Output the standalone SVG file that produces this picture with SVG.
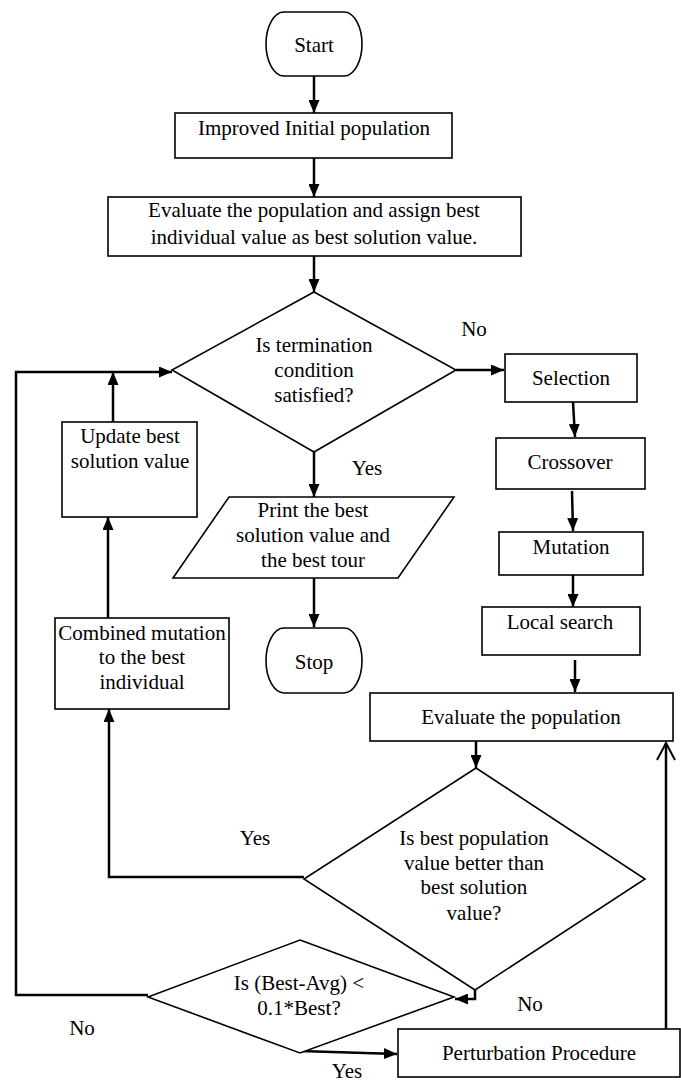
<svg xmlns="http://www.w3.org/2000/svg" width="681" height="1083" viewBox="0 0 681 1083">
<defs>
<marker id="ah" markerUnits="userSpaceOnUse" markerWidth="14" markerHeight="11" refX="13" refY="5.5" orient="auto"><path d="M0,0 L13,5.5 L0,11 Z" fill="#000"/></marker>
<marker id="oh" markerUnits="userSpaceOnUse" markerWidth="20" markerHeight="24" refX="18" refY="10" orient="auto"><path d="M1,1 L18,10 L1,19" fill="none" stroke="#000" stroke-width="2"/></marker>
</defs>
<style>
.s{fill:#fff;stroke:#000;stroke-width:1.6}
.t{font-family:"Liberation Serif","Times New Roman","DejaVu Serif",serif;font-size:21px;fill:#000;text-anchor:middle}
.c{fill:none;stroke:#000;stroke-width:2.5}
</style>
<rect width="681" height="1083" fill="#fff"/>
<g id="connectors">
<path class="c" d="M314,76 V113" marker-end="url(#ah)"/>
<path class="c" d="M314,155 V197" marker-end="url(#ah)"/>
<path class="c" d="M314,256 V292" marker-end="url(#ah)"/>
<path class="c" d="M456,370 H504" marker-end="url(#ah)"/>
<path class="c" d="M573,402 L575,437" marker-end="url(#ah)"/>
<path class="c" d="M572,491 L573,531" marker-end="url(#ah)"/>
<path class="c" d="M573,575 V607" marker-end="url(#ah)"/>
<path class="c" d="M575,660 V692" marker-end="url(#ah)"/>
<path class="c" d="M476,741 V768" marker-end="url(#ah)"/>
<path class="c" d="M304,877 H109 V709" marker-end="url(#ah)"/>
<path class="c" d="M108,618 V517" marker-end="url(#ah)"/>
<path class="c" d="M113,422 V372" marker-end="url(#ah)"/>
<path class="c" d="M148,995 H16 V372 H172" marker-end="url(#ah)"/>
<path class="c" d="M314,452 V497" marker-end="url(#ah)"/>
<path class="c" d="M314,578 V627" marker-end="url(#ah)"/>
<path class="c" d="M475,990 V999 H455" marker-end="url(#ah)"/>
<path class="c" d="M300,1051 L397,1054" marker-end="url(#ah)"/>
<path class="c" d="M666,1029 V743" marker-end="url(#oh)"/>
</g>
<g id="start"><path class="s" d="M284,12 H344 A18,32 0 0 1 344,76 H284 A18,32 0 0 1 284,12 Z"/><text class="t" x="314" y="52">Start</text></g>
<g id="init"><rect class="s" x="175" y="113" width="277" height="45"/><text class="t" x="314" y="135">Improved Initial population</text></g>
<g id="eval1"><rect class="s" x="108" y="197" width="413" height="59"/><text class="t" x="314" y="217">Evaluate the population and assign best</text><text class="t" x="314" y="244">individual value as best solution value.</text></g>
<g id="term"><path class="s" d="M314,292 L456,370 L314,452 L172,370 Z"/><text class="t" x="314" y="352">Is termination</text><text class="t" x="314" y="377">condition</text><text class="t" x="314" y="402">satisfied?</text></g>
<g id="selection"><rect class="s" x="505" y="354" width="132" height="48"/><text class="t" x="571" y="385">Selection</text></g>
<g id="crossover"><rect class="s" x="496" y="438" width="149" height="51"/><text class="t" x="570" y="469">Crossover</text></g>
<g id="mutation"><rect class="s" x="499" y="532" width="144" height="43"/><text class="t" x="571" y="554">Mutation</text></g>
<g id="local"><rect class="s" x="482" y="607" width="158" height="48"/><text class="t" x="560" y="629">Local search</text></g>
<g id="eval2"><rect class="s" x="370" y="693" width="303" height="48"/><text class="t" x="521" y="724">Evaluate the population</text></g>
<g id="better"><path class="s" d="M476,768 L645,879 L475,990 L304,879 Z"/><text class="t" x="474" y="845">Is best population</text><text class="t" x="474" y="870">value better than</text><text class="t" x="474" y="894">best solution</text><text class="t" x="474" y="920">value?</text></g>
<g id="update"><rect class="s" x="62" y="422" width="135" height="95"/><text class="t" x="130" y="443">Update best</text><text class="t" x="130" y="468">solution value</text></g>
<g id="combined"><rect class="s" x="55" y="618" width="174" height="91"/><text class="t" x="142" y="640">Combined mutation</text><text class="t" x="142" y="664">to the best</text><text class="t" x="142" y="689">individual</text></g>
<g id="print"><path class="s" d="M229,497 L454,497 L398,578 L173,578 Z"/><text class="t" x="313" y="517">Print the best</text><text class="t" x="313" y="542">solution value and</text><text class="t" x="313" y="567">the best tour</text></g>
<g id="stop"><path class="s" d="M284,628 H344 A18,32.5 0 0 1 344,693 H284 A18,32.5 0 0 1 284,628 Z"/><text class="t" x="314" y="669">Stop</text></g>
<g id="stagnation"><path class="s" d="M300,940 L454,997 L300,1053 L148,997 Z"/><text class="t" x="299" y="990">Is (Best-Avg) &lt;</text><text class="t" x="299" y="1015">0.1*Best?</text></g>
<g id="perturb"><rect class="s" x="398" y="1029" width="282" height="48"/><text class="t" x="539" y="1060">Perturbation Procedure</text></g>
<g id="labels">
<text class="t" x="474" y="336">No</text>
<text class="t" x="367" y="475">Yes</text>
<text class="t" x="255" y="845">Yes</text>
<text class="t" x="530" y="1011">No</text>
<text class="t" x="82" y="1035">No</text>
<text class="t" x="347" y="1078">Yes</text>
</g>
</svg>
